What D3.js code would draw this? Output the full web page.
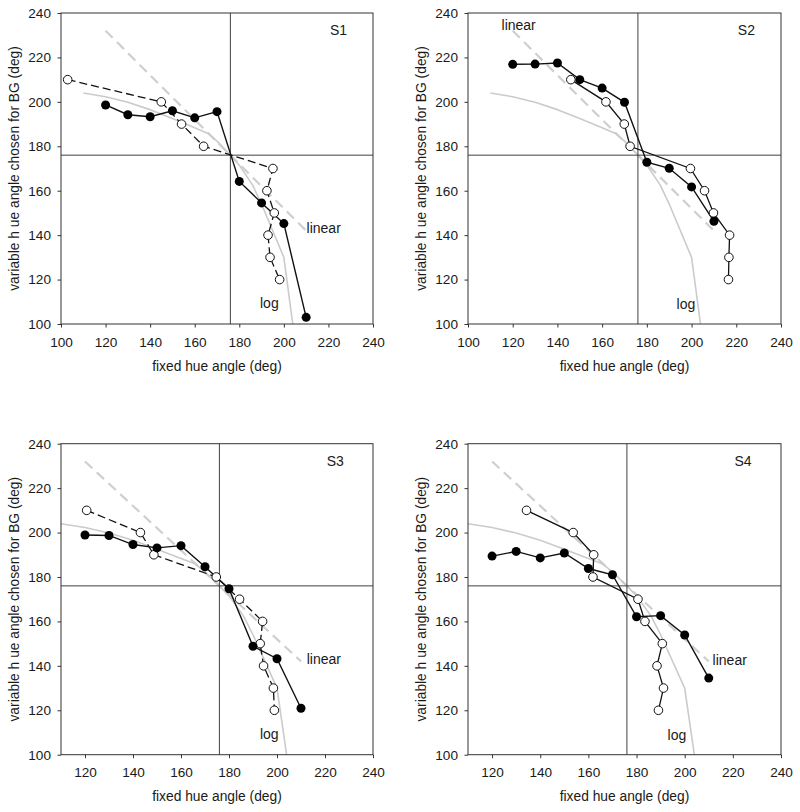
<!DOCTYPE html>
<html>
<head>
<meta charset="utf-8">
<script src="https://cdn.jsdelivr.net/npm/d3@7"></script>
<style>
  html, body { margin: 0; padding: 0; background: #fff; }
  svg { display: block; font-family: "Liberation Sans", Arial, sans-serif; }
</style>
</head>
<body>
<svg id="chart" width="800" height="812"></svg>
<script>
// ---------------- data ----------------
const panelNames = ["S1", "S2", "S3", "S4"];
const xTicksWide = [100, 120, 140, 160, 180, 200, 220, 240];
const xTicksNarrow = [120, 140, 160, 180, 200, 220, 240];
const yTicks = [100, 120, 140, 160, 180, 200, 220, 240];

// filled series: fixed hue = x, chosen hue = y
const filledX = [120, 130, 140, 150, 160, 170, 180, 190, 200, 210];
const s1FilledY = [198.6, 194.2, 193.3, 196.0, 192.8, 195.6, 164.2, 154.5, 145.2, 103.0];
const s2FilledY = [216.9, 217.0, 217.5, 210.0, 206.2, 199.8, 172.8, 170.1, 161.7, 146.2];
const s3FilledY = [198.9, 198.7, 194.6, 193.1, 194.1, 184.6, 174.7, 148.8, 143.2, 120.9];
const s4FilledY = [189.4, 191.5, 188.6, 190.8, 183.8, 181.0, 162.1, 162.6, 153.9, 134.5];

// open series: chosen hue = y fixed, fixed hue = x
const openY = [210, 200, 190, 180, 170, 160, 150, 140, 130, 120];
const s1OpenX = [103.0, 145.0, 154.1, 164.0, 195.1, 192.4, 195.7, 192.9, 193.8, 198.1];
const s2OpenX = [146.0, 161.7, 169.9, 172.5, 199.5, 205.8, 209.8, 217.0, 216.7, 216.5];
const s3OpenX = [120.7, 143.1, 148.7, 174.7, 184.4, 194.0, 193.0, 194.4, 198.5, 198.9];
const s4OpenX = [134.3, 153.7, 162.2, 161.9, 180.6, 183.5, 190.7, 188.5, 191.2, 189.1];

// model curves
const linearX = [120, 210];
const linearY = [232, 142];
const logX = [110, 120, 130, 140, 150, 160, 166, 170, 176, 180, 186, 190, 200, 204];
const logY = [204, 202.3, 199.8, 196.5, 192.5, 188.3, 185.8, 182.3, 176, 171.5, 162.5, 154, 130, 100];

const centerValue = 176;

// labels positions (data coords)
const linearLabelPos = [[210.2, 141.1], [115, 232.3], [212.4, 140.6], [211.6, 140.4]];
const logLabelPos = [[189.3, 107], [193.3, 106.6], [192.9, 106.9], [192.9, 106.6]];
const panelLabelPos = [220.7, 230.1];

const xDomains = [[100, 240], [100, 240], [110, 240], [110, 240]];
const xTickSets = [xTicksWide, xTicksWide, xTicksNarrow, xTicksNarrow];
const filledYs = [s1FilledY, s2FilledY, s3FilledY, s4FilledY];
const openXs = [s1OpenX, s2OpenX, s3OpenX, s4OpenX];
const openDashed = [true, false, true, false];

// ---------------- layout ----------------
const boxes = [
  { left: 61, right: 373, top: 13, bottom: 324 },
  { left: 468, right: 781, top: 13, bottom: 324 },
  { left: 61, right: 373, top: 443.7, bottom: 754.7 },
  { left: 468, right: 781, top: 443.7, bottom: 754.7 }
];

const svg = d3.select("#chart");
const FONT = 13.6;
const ink = "#1a1a1a";

boxes.forEach((b, i) => {
  const w = b.right - b.left, h = b.bottom - b.top;
  const g = svg.append("g").attr("transform", `translate(${b.left},${b.top})`);
  const x = d3.scaleLinear().domain(xDomains[i]).range([0, w]);
  const y = d3.scaleLinear().domain([100, 240]).range([h, 0]);

  // axes
  const xa = g.append("g").attr("transform", `translate(0,${h})`)
    .call(d3.axisBottom(x).tickValues(xTickSets[i]).tickSize(3.5).tickPadding(9.6).tickFormat(d3.format("d")));
  const ya = g.append("g")
    .call(d3.axisLeft(y).tickValues(yTicks).tickSize(3.5).tickPadding(6.5).tickFormat(d3.format("d")));
  [xa, ya].forEach(a => {
    a.select(".domain").remove();
    a.selectAll("line").attr("stroke", "#333").attr("stroke-width", 1);
    a.selectAll("text").attr("fill", ink).style("font-size", FONT + "px")
      .style("font-family", '"Liberation Sans", Arial, sans-serif');
  });

  // model curves
  const lineGen = d3.line().x(d => x(d[0])).y(d => y(d[1]));
  g.append("path")
    .datum(linearX.map((v, k) => [v, linearY[k]]))
    .attr("d", lineGen).attr("fill", "none")
    .attr("stroke", "#cfcfcf").attr("stroke-width", 2.2).attr("stroke-dasharray", "10,6");
  g.append("path")
    .datum(logX.map((v, k) => [v, logY[k]]))
    .attr("d", lineGen)
    .attr("fill", "none").attr("stroke", "#cbcbcb").attr("stroke-width", 1.6)
    .attr("stroke-linejoin", "round");

  // crosshair
  g.append("line").attr("x1", x(centerValue)).attr("x2", x(centerValue)).attr("y1", 0).attr("y2", h)
    .attr("stroke", "#404040").attr("stroke-width", 1);
  g.append("line").attr("x1", 0).attr("x2", w).attr("y1", y(centerValue)).attr("y2", y(centerValue))
    .attr("stroke", "#404040").attr("stroke-width", 1);

  // frame
  g.append("rect").attr("x", 0).attr("y", 0).attr("width", w).attr("height", h)
    .attr("fill", "none").attr("stroke", "#333").attr("stroke-width", 1);

  // series lines
  const filled = filledX.map((v, k) => [v, filledYs[i][k]]);
  const open = openY.map((v, k) => [openXs[i][k], v]);
  g.append("path").datum(open).attr("d", lineGen).attr("fill", "none")
    .attr("stroke", "#111").attr("stroke-width", 1.3)
    .attr("stroke-dasharray", openDashed[i] ? "8,4" : null);
  g.append("path").datum(filled).attr("d", lineGen).attr("fill", "none")
    .attr("stroke", "#111").attr("stroke-width", 1.4);

  // markers
  g.selectAll(".op").data(open).enter().append("circle")
    .attr("cx", d => x(d[0])).attr("cy", d => y(d[1])).attr("r", 4.3)
    .attr("fill", "#fff").attr("stroke", "#111").attr("stroke-width", 1);
  g.selectAll(".fp").data(filled).enter().append("circle")
    .attr("cx", d => x(d[0])).attr("cy", d => y(d[1])).attr("r", 4.5)
    .attr("fill", "#000");

  // annotations
  g.append("text").attr("x", x(panelLabelPos[0])).attr("y", y(panelLabelPos[1]))
    .attr("fill", ink).style("font-size", "14px").text(panelNames[i]);
  g.append("text").attr("x", x(linearLabelPos[i][0])).attr("y", y(linearLabelPos[i][1]))
    .attr("fill", ink).style("font-size", "14px").text("linear");
  g.append("text").attr("x", x(logLabelPos[i][0])).attr("y", y(logLabelPos[i][1]))
    .attr("fill", ink).style("font-size", "14px").text("log");

  // axis titles
  g.append("text").attr("x", w / 2).attr("y", h + 46.5).attr("text-anchor", "middle")
    .attr("fill", ink).style("font-size", "13.8px").text("fixed hue angle (deg)");
  g.append("text").attr("transform", `translate(-42.5,${h / 2}) rotate(-90)`)
    .attr("text-anchor", "middle").attr("fill", ink).style("font-size", "13.8px")
    .text("variable h ue angle chosen for BG (deg)");
});
</script>
</body>
</html>
